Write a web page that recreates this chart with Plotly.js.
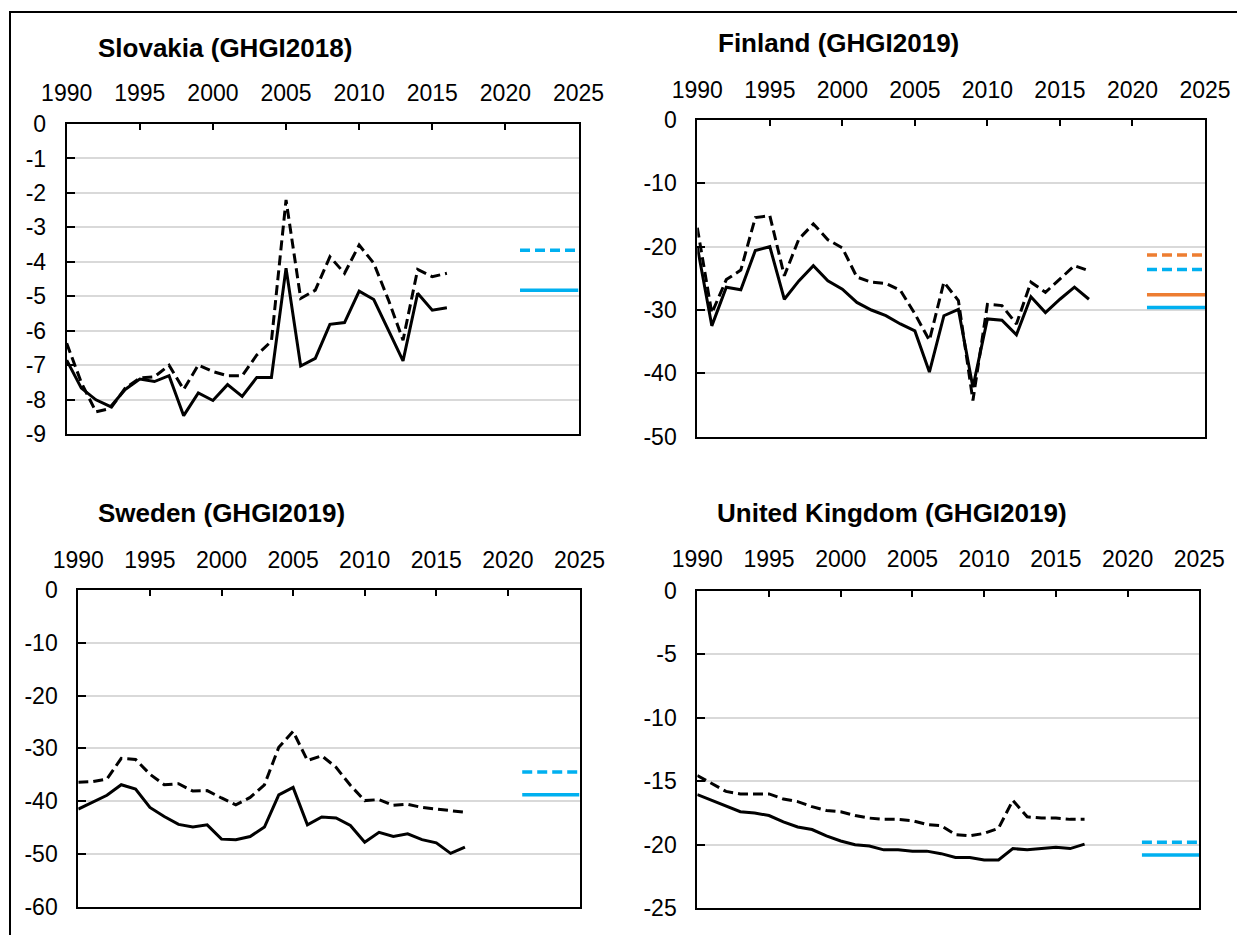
<!DOCTYPE html>
<html>
<head>
<meta charset="utf-8">
<script src="https://cdn.plot.ly/plotly-3.0.1.min.js"></script>
<style>
html,body{margin:0;padding:0;background:#fff;overflow:hidden;width:1237px;height:935px;}
#wrap{position:relative;width:1237px;height:935px;overflow:hidden;}
#chart{position:absolute;left:0;top:0;width:1237px;height:935px;}
#frame{position:absolute;left:9px;top:11px;width:1400px;height:1100px;border-left:2.5px solid #000;border-top:2.5px solid #000;pointer-events:none;}
</style>
</head>
<body>
<div id="wrap"><div id="chart"></div><div id="frame"></div></div>
<script>
// ---------- data ----------
const yearsSK = [1990,1991,1992,1993,1994,1995,1996,1997,1998,1999,2000,2001,2002,2003,2004,2005,2006,2007,2008,2009,2010,2011,2012,2013,2014,2015,2016];
const years = [1990,1991,1992,1993,1994,1995,1996,1997,1998,1999,2000,2001,2002,2003,2004,2005,2006,2007,2008,2009,2010,2011,2012,2013,2014,2015,2016,2017];
const refYears = [2021, 2025];

const slovakiaSolid  = [-6.85,-7.66,-8.0,-8.2,-7.7,-7.4,-7.47,-7.3,-8.46,-7.8,-8.02,-7.56,-7.9,-7.35,-7.35,-4.18,-7.02,-6.8,-5.81,-5.76,-4.85,-5.09,-5.98,-6.87,-4.91,-5.40,-5.33];
const slovakiaDashed = [-6.36,-7.5,-8.35,-8.25,-7.66,-7.37,-7.33,-7.0,-7.7,-6.99,-7.18,-7.3,-7.3,-6.7,-6.3,-2.2,-5.06,-4.82,-3.85,-4.33,-3.51,-4.04,-5.1,-6.27,-4.22,-4.43,-4.33];
const slovakiaRefBlueDashed = -3.66;
const slovakiaRefBlueSolid = -4.82;

const finlandSolid  = [-20.0,-32.5,-26.4,-26.8,-20.6,-20.0,-28.3,-25.4,-23.0,-25.4,-26.7,-28.8,-30.0,-30.9,-32.2,-33.3,-39.8,-30.9,-29.9,-42.2,-31.4,-31.6,-33.9,-27.9,-30.4,-28.3,-26.4,-28.3];
const finlandDashed = [-17.0,-30.5,-25.2,-23.7,-15.4,-15.1,-24.6,-18.8,-16.4,-18.9,-20.2,-24.8,-25.6,-25.8,-26.9,-30.6,-34.8,-25.6,-28.5,-44.3,-29.1,-29.3,-32.2,-25.6,-27.2,-25.1,-23.0,-23.8];
const finlandRefOrangeDashed = -21.3;
const finlandRefBlueDashed = -23.6;
const finlandRefOrangeSolid = -27.6;
const finlandRefBlueSolid = -29.6;

const swedenSolid  = [-41.5,-40.2,-38.9,-36.9,-37.7,-41.2,-42.9,-44.4,-44.9,-44.5,-47.2,-47.3,-46.7,-44.9,-38.8,-37.4,-44.5,-43.0,-43.2,-44.6,-47.8,-45.9,-46.7,-46.2,-47.3,-47.9,-49.9,-48.7];
const swedenDashed = [-36.4,-36.3,-35.8,-31.9,-32.1,-34.9,-36.9,-36.7,-38.1,-38.0,-39.4,-40.7,-39.3,-36.9,-29.8,-26.8,-32.3,-31.4,-33.6,-37.0,-39.9,-39.7,-40.8,-40.6,-41.2,-41.5,-41.7,-42.1];
const swedenRefBlueDashed = -34.5;
const swedenRefBlueSolid = -38.8;

const ukSolid  = [-16.05,-16.5,-17.0,-17.4,-17.5,-17.7,-18.2,-18.6,-18.8,-19.3,-19.7,-20.0,-20.1,-20.4,-20.4,-20.5,-20.5,-20.7,-21.0,-21.0,-21.2,-21.2,-20.3,-20.4,-20.3,-20.2,-20.3,-19.95];
const ukDashed = [-14.55,-15.2,-15.8,-16.0,-16.0,-16.0,-16.4,-16.6,-17.0,-17.3,-17.4,-17.7,-17.9,-18.0,-18.0,-18.1,-18.4,-18.5,-19.2,-19.3,-19.1,-18.7,-16.5,-17.8,-17.9,-17.9,-18.0,-18.0];
const ukRefBlueDashed = -19.8;
const ukRefBlueSolid = -20.8;

const titles = ['Slovakia (GHGI2018)', 'Finland (GHGI2019)', 'Sweden (GHGI2019)', 'United Kingdom (GHGI2019)'];
const xTickVals = [1990,1995,2000,2005,2010,2015,2020,2025];
const xTickText = ['1990','1995','2000','2005','2010','2015','2020','2025'];
const yTickVals1 = [0,-1,-2,-3,-4,-5,-6,-7,-8,-9];
const yTickText1 = ['0','-1','-2','-3','-4','-5','-6','-7','-8','-9'];
const yTickVals2 = [0,-10,-20,-30,-40,-50];
const yTickText2 = ['0','-10','-20','-30','-40','-50'];
const yTickVals3 = [0,-10,-20,-30,-40,-50,-60];
const yTickText3 = ['0','-10','-20','-30','-40','-50','-60'];
const yTickVals4 = [0,-5,-10,-15,-20,-25];
const yTickText4 = ['0','-5','-10','-15','-20','-25'];

// ---------- styles ----------
const BLUE = '#00B0F0', ORANGE = '#ED7D31';
const FONT = 'Liberation Sans, Arial, sans-serif';
const W = 1237, H = 935;

function blackLine(xa, ya, x, y, dashed) {
  return {x: x, y: y, xaxis: xa, yaxis: ya, type: 'scatter', mode: 'lines',
    line: {color: '#000', width: 3, dash: dashed ? '10px,5px' : 'solid'}, hoverinfo: 'skip'};
}
function refLine(xa, ya, v, color, dashed) {
  return {x: refYears, y: refYears.map(() => v), xaxis: xa, yaxis: ya, type: 'scatter', mode: 'lines',
    line: {color: color, width: 3.5, dash: dashed ? '10px,5px' : 'solid'}, hoverinfo: 'skip'};
}

const traces = [
  blackLine('x','y', yearsSK, slovakiaSolid, false),
  blackLine('x','y', yearsSK, slovakiaDashed, true),
  refLine('x','y', slovakiaRefBlueDashed, BLUE, true),
  refLine('x','y', slovakiaRefBlueSolid, BLUE, false),

  blackLine('x2','y2', years, finlandSolid, false),
  blackLine('x2','y2', years, finlandDashed, true),
  refLine('x2','y2', finlandRefOrangeDashed, ORANGE, true),
  refLine('x2','y2', finlandRefBlueDashed, BLUE, true),
  refLine('x2','y2', finlandRefOrangeSolid, ORANGE, false),
  refLine('x2','y2', finlandRefBlueSolid, BLUE, false),

  blackLine('x3','y3', years, swedenSolid, false),
  blackLine('x3','y3', years, swedenDashed, true),
  refLine('x3','y3', swedenRefBlueDashed, BLUE, true),
  refLine('x3','y3', swedenRefBlueSolid, BLUE, false),

  blackLine('x4','y4', years, ukSolid, false),
  blackLine('x4','y4', years, ukDashed, true),
  refLine('x4','y4', ukRefBlueDashed, BLUE, true),
  refLine('x4','y4', ukRefBlueSolid, BLUE, false)
];

function xAxis(l, r, anchor, standoff) {
  return {domain: [l / W, r / W], anchor: anchor, side: 'top', range: [1990, 2025],
    tickmode: 'array', tickvals: xTickVals, ticktext: xTickText,
    ticks: 'inside', ticklen: 6, tickwidth: 2, tickcolor: '#000',
    showgrid: false, zeroline: false, showline: true, linecolor: '#000', linewidth: 2, mirror: true,
    ticklabelstandoff: standoff, tickfont: {family: FONT, size: 23, color: '#000'}, fixedrange: true};
}
function yAxis(t, b, anchor, range, vals, text) {
  return {domain: [1 - b / H, 1 - t / H], anchor: anchor, range: range,
    tickmode: 'array', tickvals: vals, ticktext: text,
    ticks: 'inside', ticklen: 8, tickwidth: 2, tickcolor: '#000',
    showgrid: true, gridcolor: '#D9D9D9', gridwidth: 2, zeroline: false,
    showline: true, linecolor: '#000', linewidth: 2, mirror: true,
    ticklabelstandoff: 14, tickfont: {family: FONT, size: 23, color: '#000'}, fixedrange: true};
}

function title(text, xpx, ypx) {
  return {text: text, xref: 'paper', yref: 'paper', x: xpx / W, y: 1 - ypx / H,
    xanchor: 'left', yanchor: 'middle', showarrow: false,
    font: {family: FONT, size: 26, color: '#000', weight: 'bold'}};
}

const layout = {
  width: W, height: H, margin: {l: 0, r: 0, t: 0, b: 0},
  paper_bgcolor: '#fff', plot_bgcolor: '#fff', showlegend: false,
  xaxis:  xAxis(66.7, 578.5, 'y', 12),
  yaxis:  yAxis(124, 434.3, 'x', [-9, 0], yTickVals1, yTickText1),
  xaxis2: xAxis(697.3, 1205, 'y2', 11),
  yaxis2: yAxis(120, 436.7, 'x2', [-50, 0], yTickVals2, yTickText2),
  xaxis3: xAxis(78.3, 579.5, 'y3', 11),
  yaxis3: yAxis(590, 906.7, 'x3', [-60, 0], yTickVals3, yTickText3),
  xaxis4: xAxis(697.3, 1199.3, 'y4', 13),
  yaxis4: yAxis(590.7, 908.3, 'x4', [-25, 0], yTickVals4, yTickText4),
  annotations: [
    title(titles[0], 96, 48),
    title(titles[1], 716, 43),
    title(titles[2], 96, 513),
    title(titles[3], 715, 513)
  ]
};

Plotly.newPlot('chart', traces, layout, {displayModeBar: false, staticPlot: true});
</script>
</body>
</html>
